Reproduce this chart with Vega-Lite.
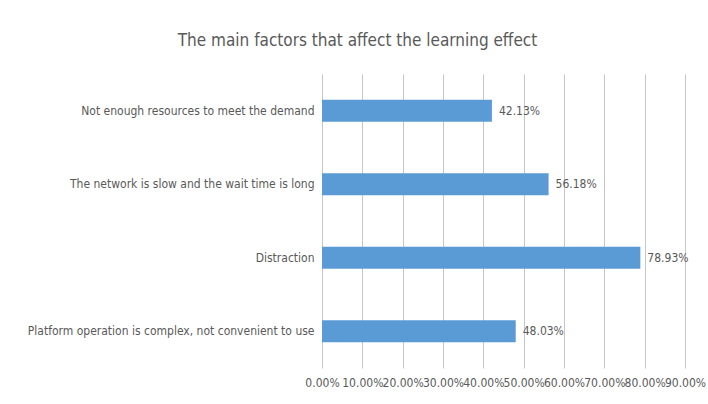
{
  "$schema": "https://vega.github.io/schema/vega-lite/v6.json",
  "width": 363,
  "height": 294,
  "autosize": {"type": "none"},
  "padding": {"left": 322, "top": 74, "right": 23, "bottom": 36},
  "background": "white",
  "title": {
    "text": "The main factors that affect the learning effect",
    "font": "DejaVu Sans Condensed",
    "fontSize": 17,
    "fontWeight": "normal",
    "color": "#595959",
    "anchor": "middle",
    "frame": "group",
    "dx": -146,
    "offset": 24
  },
  "data": {
    "values": [
      {"factor": "Not enough resources to meet the demand", "share": 0.4213},
      {"factor": "The network is slow and the wait time is long", "share": 0.5618},
      {"factor": "Distraction", "share": 0.7893},
      {"factor": "Platform operation is complex, not convenient to use", "share": 0.4803}
    ]
  },
  "encoding": {
    "y": {
      "field": "factor",
      "type": "nominal",
      "sort": null,
      "scale": {"paddingInner": 0.7, "paddingOuter": 0.35},
      "axis": {
        "title": null,
        "domain": false,
        "ticks": false,
        "labelPadding": 8,
        "labelFont": "DejaVu Sans Condensed",
        "labelFontSize": 12,
        "labelColor": "#595959",
        "labelLimit": 320
      }
    },
    "x": {
      "field": "share",
      "type": "quantitative",
      "scale": {"domain": [0, 0.9], "nice": false},
      "axis": {
        "title": null,
        "format": ".2%",
        "values": [0, 0.1, 0.2, 0.3, 0.4, 0.5, 0.6, 0.7, 0.8, 0.9],
        "domain": false,
        "ticks": false,
        "grid": true,
        "gridColor": "#c6c6c6",
        "gridWidth": 1,
        "labelPadding": 9,
        "labelFont": "DejaVu Sans Condensed",
        "labelFontSize": 12,
        "labelColor": "#595959",
        "labelOverlap": false,
        "labelFlush": false
      }
    }
  },
  "layer": [
    {"mark": {"type": "bar", "color": "#5b9bd5"}},
    {
      "mark": {
        "type": "text",
        "align": "left",
        "baseline": "middle",
        "dx": 7,
        "font": "DejaVu Sans Condensed",
        "fontSize": 12,
        "color": "#595959"
      },
      "encoding": {"text": {"field": "share", "type": "quantitative", "format": ".2%"}}
    }
  ],
  "config": {"view": {"stroke": null}}
}
